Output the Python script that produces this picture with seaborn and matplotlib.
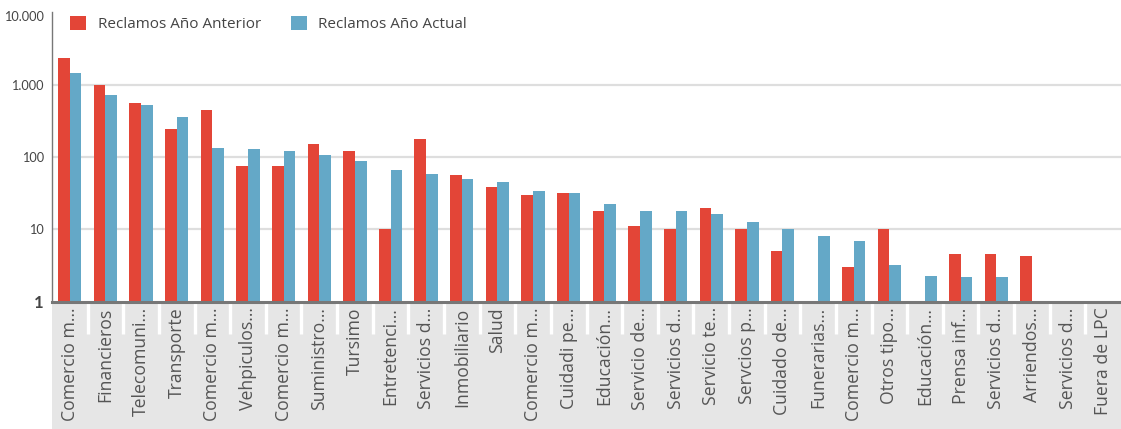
import numpy as np
import pandas as pd
import matplotlib
matplotlib.use("Agg")
import matplotlib.pyplot as plt
import matplotlib.transforms as mtransforms
from matplotlib.patches import Rectangle
from matplotlib.ticker import FixedLocator, FixedFormatter, NullLocator
import seaborn as sns

categories = ["Comercio m…", "Financieros", "Telecomuni…", "Transporte", "Comercio m…",
              "Vehpiculos…", "Comercio m…", "Suministro…", "Tursimo", "Entretenci…",
              "Servicios d…", "Inmobiliario", "Salud", "Comercio m…", "Cuidadi pe…",
              "Educación…", "Servicio de…", "Servicios d…", "Servicio te…", "Servcios p…",
              "Cuidado de…", "Funerarias…", "Comercio m…", "Otros tipo…", "Educación…",
              "Prensa inf…", "Servicios d…", "Arriendos…", "Servicios d…", "Fuera de LPC"]
anterior = [2300, 1000, 565, 240, 450, 75, 75, 150, 120, 10, 175, 56, 39, 30, 32,
            18, 11, 10, 20, 10, 5, np.nan, 3, 10, np.nan, 4.6, 4.6, 4.3, np.nan, np.nan]
actual = [1450, 730, 530, 360, 135, 128, 120, 105, 87, 66, 58, 50, 45, 34, 32,
          22.5, 18, 18, 16.5, 12.5, 10, 8, 6.8, 3.2, 2.3, 2.2, 2.2, np.nan, np.nan, np.nan]
series_names = ["Reclamos Año Anterior", "Reclamos Año Actual"]
ytick_values = [1, 10, 100, 1000, 10000]
ytick_labels = ["1", "10", "100", "1.000", "10.000"]

RED = "#E34537"
BLUE = "#64A8C7"
TXT = "#555555"

sns.set_theme(style="white")
plt.rcParams["font.family"] = ["Open Sans", "DejaVu Sans"]

n = len(categories)
df = pd.DataFrame({
    "pos": list(range(n)) * 2,
    "serie": [series_names[0]] * n + [series_names[1]] * n,
    "valor": anterior + actual,
})

fig = plt.figure(figsize=(11.21, 4.29), dpi=100)
W, H = 1121, 429
left, right, top, bottom = 52, 1121, 12.3, 301.7
ax = fig.add_axes([left / W, 1 - bottom / H, (right - left) / W, (bottom - top) / H])

sns.barplot(data=df, x="pos", y="valor", hue="serie", order=list(range(n)),
            hue_order=series_names, palette=[RED, BLUE], width=0.655, gap=0,
            saturation=1, errorbar=None, legend=False, linewidth=0, ax=ax)

ax.set_yscale("log")
ax.set_ylim(1, 10000)
ax.set_xlim(-0.5, n - 0.5)
ax.yaxis.set_major_locator(FixedLocator(ytick_values))
ax.yaxis.set_major_formatter(FixedFormatter(ytick_labels))
ax.yaxis.set_minor_locator(NullLocator())
for v in ytick_values[1:4]:
    ax.axhline(v, color="#dedede", lw=1.6, zorder=0)

for s in ["top", "right"]:
    ax.spines[s].set_visible(False)
ax.spines["left"].set_color("#777777")
ax.spines["left"].set_linewidth(1.0)
ax.spines["bottom"].set_color("#777777")
ax.spines["bottom"].set_linewidth(2.2)
ax.spines["bottom"].set_zorder(5)

ax.tick_params(axis="y", length=0, pad=6, labelsize=9.2, labelcolor="#444444")
ax.tick_params(axis="x", length=0, pad=4)
fig.canvas.draw()
for lab in ax.get_yticklabels():
    lab.set_family(["Lato", "DejaVu Sans"])
    if lab.get_text() == "1":
        lab.set_fontweight("bold")
        lab.set_fontsize(12)
    if lab.get_text() == "10.000":
        lab.set_transform(lab.get_transform() +
                          mtransforms.ScaledTranslation(0, -4 / 100, fig.dpi_scale_trans))
ax.set_xticks(range(n))
ax.set_xticklabels(categories, rotation=90, fontsize=12.7, color=TXT, va="top", ha="center")
ax.set_xlabel("")
ax.set_ylabel("")

# grey label band with white separators
trans = ax.get_xaxis_transform()
band_h = (H - bottom) / (bottom - top)
ax.add_patch(Rectangle((-0.5, -band_h - 0.01), n, band_h + 0.005, transform=trans,
                       facecolor="#e6e6e6", edgecolor="none", clip_on=False, zorder=-1))
sep_h = 32 / (bottom - top)
for i in range(n - 1):
    ax.plot([i + 0.5, i + 0.5], [-0.006, -sep_h], transform=trans, color="white",
            lw=2.4, clip_on=False, zorder=0, solid_capstyle="butt")

# legend
handles = [Rectangle((0, 0), 1, 1, facecolor=c, edgecolor="none") for c in [RED, BLUE]]
leg = fig.legend(handles, series_names, loc="upper left", bbox_to_anchor=(64 / W, 1 - 10 / H),
                 ncol=2, frameon=False, fontsize=11, handlelength=1.05, handleheight=1.05,
                 handletextpad=0.75, columnspacing=1.95, borderaxespad=0)
for t in leg.get_texts():
    t.set_color("#444444")

fig.savefig("out.png", dpi=100)
